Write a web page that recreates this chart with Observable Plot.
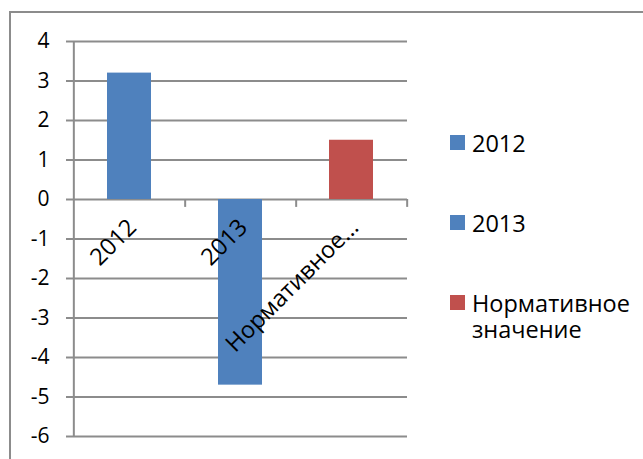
<!DOCTYPE html>
<html><head><meta charset="utf-8">
<script src="https://cdn.jsdelivr.net/npm/d3@7"></script>
<script src="https://cdn.jsdelivr.net/npm/@observablehq/plot@0.6"></script>
<style>
body{margin:0;background:#fff;}
#wrap{position:relative;width:643px;height:459px;overflow:hidden;font-family:"Open Sans",sans-serif;}
#wrap svg{position:absolute;left:0;top:0;}
#border{position:absolute;left:9px;top:11px;right:-5px;bottom:-5px;border-left:2px solid #8c8c8c;border-top:2px solid #8c8c8c;}
#legend{position:absolute;left:450px;top:130px;display:flex;flex-direction:column;gap:54px;font-size:23.5px;line-height:26px;color:#000;}
.item{display:flex;align-items:flex-start;}
.sw{width:15px;height:15px;margin-top:5px;margin-right:7px;flex:none;}
.lbl{width:175px;}
</style></head><body><div id="wrap"></div>
<script>
const categories = ["2012", "2013", "Нормативное значение"];
const values = [3.2, -4.7, 1.5];
const seriesNames = ["2012", "2013", "Нормативное значение"];
const colors = ["#4F81BD", "#4F81BD", "#C0504D"];
const yTicks = [-6, -5, -4, -3, -2, -1, 0, 1, 2, 3, 4];
const axisLabels = ["2012", "2013", "Нормативное…"];

const data = categories.map((c, i) => ({category: c, value: values[i], color: colors[i], label: axisLabels[i]}));
const W = 643, H = 459, mL = 73, mR = 236, mT = 41, mB = 23;
const step = (W - mL - mR) / categories.length;
const grey = "#8c8c8c";

const chart = Plot.plot({
  width: W, height: H, marginLeft: mL, marginRight: mR, marginTop: mT, marginBottom: mB,
  style: {fontFamily: "'Open Sans', sans-serif", fontSize: "21px", color: "#000", background: "transparent", overflow: "visible"},
  x: {domain: categories, paddingInner: 0.6, paddingOuter: 0.3, axis: null},
  y: {domain: [-6, 4], axis: null},
  color: {type: "identity"},
  marks: [
    Plot.gridY(yTicks, {stroke: grey, strokeOpacity: 1, strokeWidth: 2}),
    Plot.axisY(yTicks, {label: null, tickSize: 7, tickPadding: 17, stroke: grey, strokeWidth: 2, strokeOpacity: 1, fontSize: 21, fill: "#000", tickFormat: d => String(d)}),
    Plot.ruleX([categories[0]], {x: d => d, y1: -6, y2: 4, dx: -step / 2, stroke: grey, strokeWidth: 2}),
    Plot.ruleX(data, {x: "category", y1: 0, y2: -0.2, dx: step / 2, stroke: grey, strokeWidth: 2}),
    Plot.barY(data, {x: "category", y: "value", fill: "color"}),
    Plot.text(data, {x: "category", y: 0, text: "label", rotate: -45, textAnchor: "end", dx: 3, dy: 24, fontSize: 23.5, fill: "#000"})
  ]
});

const wrap = document.getElementById("wrap");
wrap.appendChild(chart);
const border = document.createElement("div");
border.id = "border";
wrap.appendChild(border);
const legend = document.createElement("div");
legend.id = "legend";
seriesNames.forEach((n, i) => {
  const it = document.createElement("div");
  it.className = "item";
  it.innerHTML = `<div class="sw" style="background:${colors[i]}"></div><div class="lbl">${n}</div>`;
  legend.appendChild(it);
});
wrap.appendChild(legend);
</script></body></html>
